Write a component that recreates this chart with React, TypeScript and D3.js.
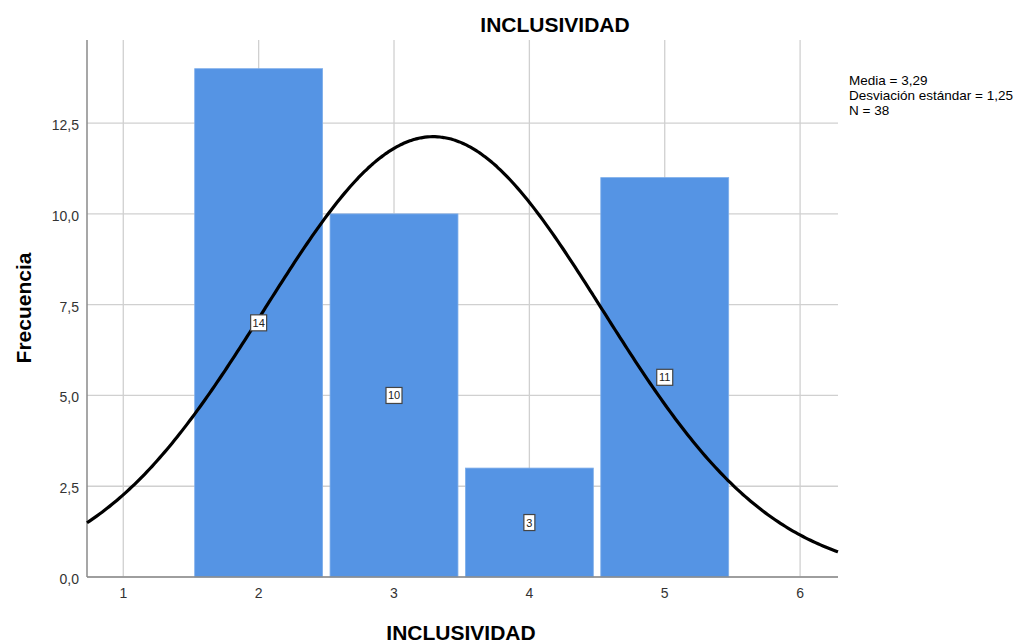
import React from "react";
import * as d3 from "d3";

const categories = [2, 3, 4, 5];
const frequencies = [14, 10, 3, 11];
const xTicks = [1, 2, 3, 4, 5, 6];
const yTicks = [0, 2.5, 5, 7.5, 10, 12.5];
const statsLines = ["Media = 3,29", "Desviación estándar = 1,25", "N = 38"];
const mean = 3.29;
const sd = 1.25;
const n = 38;
const binWidth = 1;

export default function App() {
  const W = 1028, H = 643;
  const left = 87, right = 838, top = 40, bottom = 577;
  const x = d3.scaleLinear().domain([0.732, 6.28]).range([left, right]);
  const y = d3.scaleLinear().domain([0, 14.79]).range([bottom, top]);
  const fmt = (v: number) => v.toFixed(1).replace(".", ",");
  const half = 0.4725;

  const pts: [number, number][] = d3.range(0, 301).map((i) => {
    const xv = 0.732 + (6.28 - 0.732) * (i / 300);
    const yv = (n * binWidth) / (sd * Math.sqrt(2 * Math.PI)) * Math.exp(-0.5 * ((xv - mean) / sd) ** 2);
    return [xv, yv];
  });
  const line = d3.line<[number, number]>().x((d) => x(d[0])).y((d) => y(d[1])).curve(d3.curveBasis);

  const font = "'Liberation Sans', Arial, sans-serif";

  return (
    <svg width={W} height={H} style={{ position: "absolute", left: 0, top: 0, background: "#fff" }} fontFamily={font}>
      <rect x={0} y={0} width={W} height={H} fill="#fff" />
      <text x={555} y={32} textAnchor="middle" fontSize={21} fontWeight="bold" fill="#000">INCLUSIVIDAD</text>
      {/* grid */}
      {xTicks.map((t) => (
        <line key={"gx" + t} x1={x(t)} x2={x(t)} y1={top} y2={bottom} stroke="#d0d0d0" strokeWidth={1.3} />
      ))}
      {yTicks.map((t) => (
        <line key={"gy" + t} x1={left} x2={right} y1={y(t)} y2={y(t)} stroke="#d0d0d0" strokeWidth={1.3} />
      ))}
      {/* bars */}
      {categories.map((c, i) => (
        <rect key={"b" + c} x={x(c - half)} y={y(frequencies[i])} width={x(c + half) - x(c - half)} height={y(0) - y(frequencies[i])} fill="#5594e4" stroke="#7eaeea" strokeWidth={0.8} />
      ))}
      {/* axes */}
      <line x1={left} x2={left} y1={top} y2={bottom} stroke="#8a8a8a" strokeWidth={1.5} />
      <line x1={left} x2={right} y1={bottom} y2={bottom} stroke="#8a8a8a" strokeWidth={1.5} />
      {/* curve */}
      <path d={line(pts) || ""} fill="none" stroke="#000" strokeWidth={3.2} />
      {/* labels */}
      {categories.map((c, i) => {
        const txt = String(frequencies[i]);
        const w = txt.length > 1 ? 16 : 11;
        const cx = x(c), cy = y(frequencies[i] / 2);
        return (
          <g key={"l" + c}>
            <rect x={cx - w / 2} y={cy - 8} width={w} height={16} fill="#fff" stroke="#444" strokeWidth={1.2} />
            <text x={cx} y={cy + 4} textAnchor="middle" fontSize={11} fill="#222">{txt}</text>
          </g>
        );
      })}
      {/* tick labels */}
      {xTicks.map((t) => (
        <text key={"tx" + t} x={x(t)} y={598} textAnchor="middle" fontSize={14} fill="#333">{t}</text>
      ))}
      {yTicks.map((t) => (
        <text key={"ty" + t} x={79} y={y(t) + 7} textAnchor="end" fontSize={14} fill="#333">{fmt(t)}</text>
      ))}
      <text x={461} y={640} textAnchor="middle" fontSize={21} fontWeight="bold" fill="#000">INCLUSIVIDAD</text>
      <text transform="translate(31,308) rotate(-90)" textAnchor="middle" fontSize={21} fontWeight="bold" fill="#000">Frecuencia</text>
      {statsLines.map((s, i) => (
        <text key={"s" + i} x={849} y={85 + i * 15} fontSize={13.5} fill="#000">{s}</text>
      ))}
    </svg>
  );
}
